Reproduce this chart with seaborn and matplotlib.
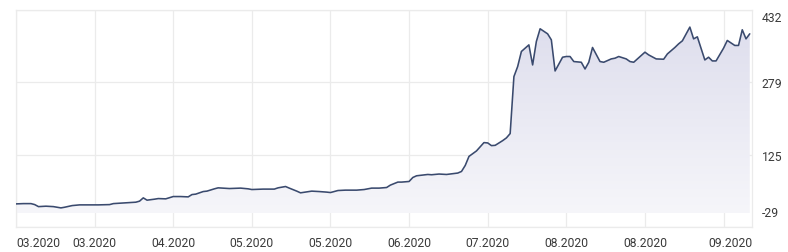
import numpy as np
import pandas as pd
import matplotlib
matplotlib.use("Agg")
import matplotlib.pyplot as plt
import matplotlib.dates as mdates
import matplotlib.transforms as mtransforms
from matplotlib.colors import LinearSegmentedColormap
import seaborn as sns

# ---------------- data ----------------
start_date = "2020-03-07"
days_since_start = [
    0, 2, 4, 5, 6, 8, 10, 12, 13, 15,
    17, 20, 22, 25, 26, 29, 32, 33, 34, 35,
    37, 38, 40, 42, 44, 46, 47, 48, 50, 51,
    53, 54, 57, 60, 62, 63, 66, 69, 70, 72,
    73, 75, 76, 79, 81, 83, 84, 86, 88, 91,
    93, 95, 97, 99, 100, 102, 103, 105, 106, 107,
    110, 111, 113, 115, 118, 119, 120, 121, 122, 123,
    125, 126, 127, 128, 130, 131, 132, 133, 134, 135,
    137, 138, 139, 140, 142, 143, 144, 146, 147, 148,
    149, 151, 152, 153, 154, 156, 157, 159, 160, 161,
    163, 164, 165, 167, 168, 169, 171, 173, 174, 176,
    177, 178, 180, 181, 182, 184, 185, 186, 187, 189,
    190, 192, 193, 194, 195, 196,
]
prices = [
    20.1, 20.7, 20.7, 18.6, 14.3, 15.2, 14.3, 11.6, 13.0, 16.5,
    18.0, 18.0, 18.0, 18.6, 20.7, 22.2, 23.7, 25.9, 32.9, 28.0,
    30.1, 31.4, 30.8, 35.7, 35.7, 35.0, 39.9, 40.8, 46.3, 47.2,
    52.1, 54.2, 52.7, 53.6, 52.1, 50.6, 51.5, 51.5, 54.2, 57.0,
    53.6, 47.2, 43.6, 47.2, 46.3, 45.1, 44.2, 48.5, 49.3, 49.3,
    50.6, 53.6, 53.6, 54.9, 60.0, 66.4, 66.4, 67.7, 76.2, 79.8,
    82.6, 82.0, 83.5, 82.6, 85.6, 89.0, 101.8, 121.0, 126.8, 132.6,
    150.3, 149.6, 143.9, 144.5, 154.5, 160.3, 169.5, 290.5, 311.8, 343.9,
    357.9, 315.3, 365.2, 392.1, 381.4, 368.6, 302.5, 331.7, 333.2, 333.2,
    322.5, 321.0, 306.7, 321.0, 352.4, 322.5, 321.0, 328.1, 329.6, 333.2,
    328.1, 322.5, 321.0, 335.3, 342.4, 336.6, 328.1, 327.4, 338.7, 352.4,
    360.1, 366.5, 395.7, 370.7, 375.0, 325.9, 331.7, 323.8, 323.8, 350.9,
    367.3, 356.7, 356.7, 390.0, 370.7, 381.4,
]
x_tick_dates = ["2020-03-07", "2020-03-28", "2020-04-18", "2020-05-09", "2020-05-30",
                "2020-06-20", "2020-07-11", "2020-08-01", "2020-08-22", "2020-09-12"]
y_ticks = [-29, 125, 279, 432]
x_span_days = 196.6

# ---------------- style ----------------
sns.set_theme(style="white")
plt.rcParams['font.family'] = ['Roboto', 'DejaVu Sans']

line_color = "#3a4a6e"
grid_color = "#ebebeb"
text_color = "#3a3a3a"

start = pd.Timestamp(start_date)
df = pd.DataFrame({
    "date": start + pd.to_timedelta(days_since_start, unit="D"),
    "price": prices,
})

fig = plt.figure(figsize=(7.88, 2.53), dpi=100)
ax = fig.add_axes([16 / 788, 25 / 253, 736 / 788, 217 / 253])

# gradient area under the line (down to 0)
poly = ax.fill_between(df["date"], df["price"], 0, color="none", lw=0)
x0 = mdates.date2num(start)
x1 = mdates.date2num(start + pd.Timedelta(days=x_span_days))
cmap = LinearSegmentedColormap.from_list("fade", ["#f6f6fa", "#dcdcec"])
grad = np.linspace(0, 1, 256).reshape(-1, 1)
im = ax.imshow(grad, extent=[x0, x1, 0, 432], aspect="auto", cmap=cmap,
               origin="lower", zorder=1, interpolation="bilinear")
im.set_clip_path(poly.get_paths()[0], transform=ax.transData)

sns.lineplot(data=df, x="date", y="price", ax=ax, color=line_color,
             lw=1.15, zorder=3)

ax.set_xlim(start, start + pd.Timedelta(days=x_span_days))
ax.set_ylim(y_ticks[0], y_ticks[-1])

tick_ts = pd.to_datetime(x_tick_dates)
ax.set_xticks(tick_ts)
ax.set_xticklabels([t.strftime("%m.%Y") for t in tick_ts])
ax.set_yticks(y_ticks)
ax.set_yticklabels([str(v) for v in y_ticks])
ax.yaxis.tick_right()
ax.set_xlabel("")
ax.set_ylabel("")

ax.grid(True, color=grid_color, lw=0.9, zorder=0)
ax.set_axisbelow(True)
for s in ax.spines.values():
    s.set_color(grid_color)
    s.set_linewidth(0.9)

ax.tick_params(axis="x", length=0, pad=6.6, labelsize=8.7, labelcolor=text_color)
ax.tick_params(axis="y", length=0, pad=7.0, labelsize=8.7, labelcolor=text_color)

def shift(label, dx_px, dy_px):
    off = mtransforms.ScaledTranslation(dx_px / 100, dy_px / 100, fig.dpi_scale_trans)
    label.set_transform(label.get_transform() + off)

xl = ax.get_xticklabels()
xl[0].set_ha("left")
shift(xl[-1], 7, 0)
yl = ax.get_yticklabels()
shift(yl[0], 0, 16)
shift(yl[-1], 0, -6)

fig.savefig("out.png", dpi=100, facecolor="white")
